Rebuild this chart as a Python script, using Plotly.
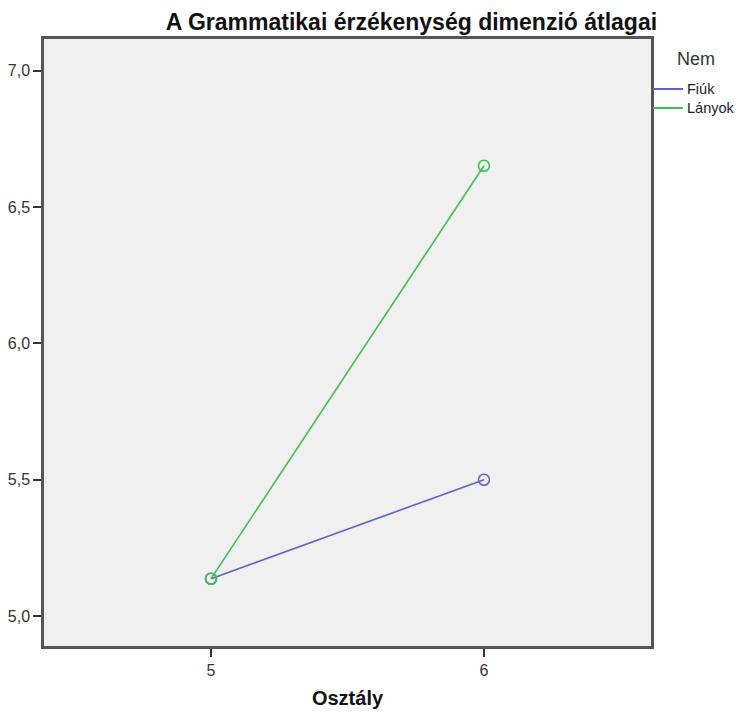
import plotly.graph_objects as go

categories = [5, 6]
fiuk = [5.137, 5.50]
lanyok = [5.137, 6.652]
y_ticks = [5.0, 5.5, 6.0, 6.5, 7.0]
y_tick_labels = ["5,0", "5,5", "6,0", "6,5", "7,0"]
x_ticks = [5, 6]
x_tick_labels = ["5", "6"]
series_names = ["Fiúk", "Lányok"]
legend_title = "Nem"

blue = "#5566c4"
green = "#3ec04e"
colors = [blue, green]

W, H = 740, 713
L, R, T, B = 44, 89, 39, 67
PW, PH = W - L - R, H - T - B


def px_x(X):
    return (X - L) / PW


def px_y(Y):
    return (H - B - Y) / PH


fig = go.Figure()
for name, vals, col in zip(series_names, [fiuk, lanyok], colors):
    fig.add_trace(go.Scatter(x=categories, y=vals, mode="lines+markers", name=name,
                             line=dict(color=col, width=1.6),
                             marker=dict(symbol="circle-open", size=11, color=col, line=dict(width=1.6)),
                             showlegend=False))

# legend (manual, to match the reference's compact spacing)
fig.add_annotation(text=legend_title, xref="paper", yref="paper", x=px_x(696), y=px_y(59),
                   xanchor="center", yanchor="middle", showarrow=False,
                   font=dict(size=18, color="#333"))
for i, (name, col) in enumerate(zip(series_names, colors)):
    yy = px_y(89 + 19 * i)
    fig.add_shape(type="line", xref="paper", yref="paper", x0=px_x(653), x1=px_x(683),
                  y0=yy, y1=yy, line=dict(color=col, width=2))
    fig.add_annotation(text=name, xref="paper", yref="paper", x=px_x(685), y=yy,
                       xanchor="left", yanchor="middle", showarrow=False,
                       font=dict(size=14.5, color="#222"))

fig.update_layout(
    width=W, height=H,
    margin=dict(l=L, r=R, t=T, b=B, autoexpand=False),
    paper_bgcolor="white",
    plot_bgcolor="#f0f0f0",
    font=dict(family="Liberation Sans, Arial, sans-serif", color="#222"),
    title=dict(text="<b>A Grammatikai érzékenység dimenzió átlagai</b>",
               x=0.556, xanchor="center", xref="container", y=0.969, yanchor="middle",
               font=dict(size=23, color="#111")),
    showlegend=False,
    xaxis=dict(range=[4.388, 6.612], tickvals=x_ticks, ticktext=x_tick_labels, automargin=False,
               showgrid=False, zeroline=False, showline=True, linecolor="#555", linewidth=2.5,
               mirror=True, ticks="outside", ticklen=8, tickwidth=2, tickcolor="#333",
               tickfont=dict(size=16, color="#333"),
               title=dict(text="<b>Osztály</b>", font=dict(size=20, color="#111"), standoff=14)),
    yaxis=dict(range=[4.89, 7.117], tickvals=y_ticks, ticktext=y_tick_labels, automargin=False,
               showgrid=False, zeroline=False, showline=True, linecolor="#555", linewidth=2.5,
               mirror=True, ticks="outside", ticklen=8, tickwidth=2, tickcolor="#333",
               tickfont=dict(size=16, color="#333")),
)

fig.write_html("out.html", config={"displayModeBar": False},
               post_script="document.body.style.margin='0';document.body.style.overflow='hidden';")
